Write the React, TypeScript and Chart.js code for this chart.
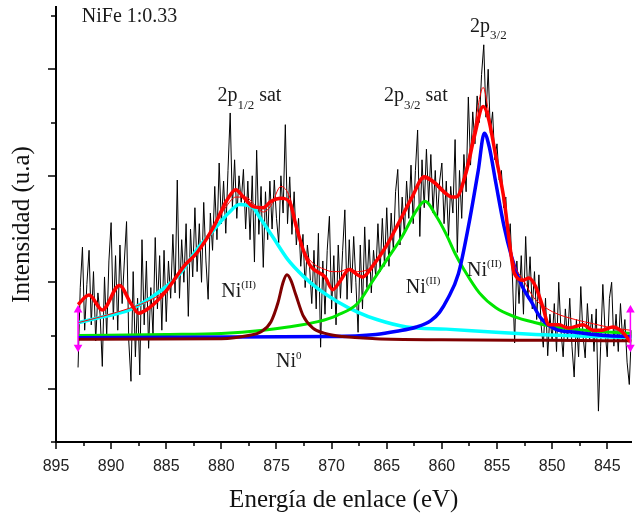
import React, { useEffect, useRef } from 'react';
import { Chart, registerables } from 'chart.js';

Chart.register(...registerables);

// ---------- axes ----------
const X_MAJOR = [895, 890, 885, 880, 875, 870, 865, 860, 855, 850, 845];
const X_MINOR = [892.5, 887.5, 882.5, 877.5, 872.5, 867.5, 862.5, 857.5, 852.5, 847.5];
const Y_MAJOR = [0, 1, 2, 3];
const Y_MINOR = [-0.5, 0.5, 1.5, 2.5, 3.5];

// ---------- raw spectrum (sampled every 0.2 eV from 893.0 eV downward) ----------
const RAW_START = 893.0;
const RAW_STEP = 0.2;
const rawCounts = [
  0.20, 0.95, 1.33, 0.55, 0.98,
  1.30, 0.60, 1.10, 0.45, 0.90,
  0.70, 0.21, 1.05, 0.50, 1.20,
  1.56, 0.65, 1.25, 0.55, 1.35,
  0.80, 1.20, 1.57, 0.45, 0.07,
  1.10, 0.30, 0.85, 0.13, 1.40,
  0.60, 1.20, 0.38, 0.95, 0.50,
  1.42, 0.75, 1.25, 0.55, 1.30,
  0.63, 1.20, 0.85, 1.45, 0.90,
  1.96, 0.85, 1.40, 1.00, 1.55,
  0.68, 1.50, 1.05, 1.70, 1.10,
  1.55, 1.00, 1.75, 1.20, 0.84,
  1.65, 1.30, 1.90, 1.40, 2.12,
  1.55, 1.95, 1.46, 2.05, 2.59,
  1.70, 2.15, 1.60, 2.00, 1.75,
  2.06, 1.50, 1.95, 1.40, 2.00,
  1.19, 2.24, 1.45, 1.90, 1.14,
  1.85, 1.40, 1.95, 1.50, 1.96,
  1.60, 1.37, 2.00, 1.65, 2.48,
  1.55, 1.99, 1.45, 1.85, 1.35,
  1.60, 1.15, 1.45, 0.95, 1.35,
  1.15, 0.80, 1.30, 0.75, 1.46,
  0.39, 1.20, 0.70, 1.30, 1.62,
  0.75, 1.25, 0.60, 1.35, 0.85,
  1.30, 1.68, 0.84, 1.40, 0.90,
  1.43, 1.00, 0.53, 1.35, 0.75,
  1.52, 0.95, 1.40, 0.90, 1.30,
  1.05, 1.55, 1.10, 1.60, 1.15,
  1.70, 1.15, 1.65, 1.30, 1.85,
  2.06, 1.35, 1.80, 1.45, 1.95,
  1.60, 2.10, 1.55, 2.05, 2.43,
  1.43, 2.15, 1.70, 2.25, 1.75,
  2.20, 1.65, 2.05, 1.60, 1.95,
  2.12, 1.55, 1.95, 1.43, 1.90,
  1.65, 2.34, 1.28, 2.05, 1.60,
  2.20, 1.85, 2.74, 2.10, 2.60,
  2.30, 2.75, 2.50, 2.95, 3.23,
  2.55, 3.00, 2.40, 2.60, 2.15,
  2.30, 1.96, 2.05, 1.70, 1.80,
  1.35, 1.55, 1.05, 0.43, 1.20,
  0.80, 1.25, 0.70, 1.43, 0.85,
  1.24, 0.75, 1.10, 0.65, 1.07,
  0.60, 0.39, 0.85, 0.31, 0.70,
  0.45, 0.80, 0.35, 1.00, 0.55,
  0.30, 0.75, 0.45, 0.85, 0.40,
  0.11, 0.65, 0.30, 0.96, 0.50,
  0.29, 0.80, 0.45, 0.70, 0.35,
  0.75, -0.21, 0.40, 0.98, 0.55,
  0.30, 0.85, 1.00, 0.40, 0.70,
  0.35, 0.80, 0.45, 0.65, 0.25,
  0.04, 0.55,
];
const rawEnergy = rawCounts.map((_, i) => +(RAW_START - i * RAW_STEP).toFixed(2));

// ---------- fitted components ----------
const cyanE = [893.0, 891.0, 888.35, 885.65, 883.85, 882.05, 880.7, 879.35, 878.36, 877.1, 876.65, 875.3, 873.95, 872.6, 871.25, 869.5, 867.65, 865.9, 863.2, 859.6, 855.1, 851.5, 846.1, 842.8];
const cyanY = [0.62, 0.67, 0.74, 0.91, 1.07, 1.33, 1.49, 1.65, 1.73, 1.70, 1.63, 1.42, 1.21, 1.06, 0.94, 0.82, 0.72, 0.65, 0.58, 0.56, 0.53, 0.51, 0.49, 0.48];

const greenE = [893.0, 885.0, 880.0, 876.2, 873.95, 871.25, 869.5, 867.65, 866.35, 865.0, 863.6, 862.27, 861.55, 860.5, 859.6, 858.8, 858.0, 856.6, 855.1, 853.5, 851.5, 849.7, 846.1, 842.8];
const greenY = [0.50, 0.51, 0.52, 0.55, 0.58, 0.63, 0.69, 0.80, 1.00, 1.21, 1.43, 1.68, 1.76, 1.62, 1.45, 1.27, 1.12, 0.90, 0.76, 0.68, 0.62, 0.58, 0.54, 0.52];

const blueE = [893.0, 870.0, 866.0, 864.1, 862.3, 861.0, 860.2, 859.5, 858.5, 857.6, 856.7, 856.15, 855.7, 855.1, 854.35, 853.7, 852.8, 851.9, 851.0, 849.7, 847.9, 845.2, 842.8];
const blueY = [0.48, 0.49, 0.51, 0.54, 0.58, 0.64, 0.72, 0.84, 1.08, 1.52, 2.05, 2.40, 2.27, 1.93, 1.52, 1.25, 0.98, 0.82, 0.66, 0.56, 0.53, 0.50, 0.49];

const brownE = [893.0, 880.0, 877.55, 876.4, 875.5, 874.86, 874.4, 874.05, 873.7, 873.24, 872.6, 871.7, 870.6, 869.0, 866.0, 860.0, 850.0, 842.8];
const brownY = [0.465, 0.47, 0.50, 0.535, 0.63, 0.81, 1.00, 1.07, 1.02, 0.88, 0.69, 0.57, 0.52, 0.49, 0.47, 0.46, 0.455, 0.45];

const envE = [893.0, 892.0, 890.8, 889.25, 888.2, 887.5, 886.55, 885.0, 883.4, 882.2, 880.7, 879.5, 878.7, 878.0, 877.1, 876.2, 875.5, 874.6, 873.8, 873.2, 872.6, 871.9, 870.6, 869.9, 869.3, 868.4, 867.65, 867.2, 866.3, 865.1, 863.9, 862.7, 861.6, 860.7, 859.8, 859.1, 858.7, 857.8, 857.05, 856.25, 855.8, 855.1, 854.35, 853.9, 853.45, 852.6, 852.1, 851.5, 850.85, 850.3, 849.4, 848.5, 847.2, 846.25, 845.45, 844.5, 843.65, 842.9];
const envY = [0.79, 0.88, 0.74, 0.97, 0.80, 0.71, 0.76, 0.92, 1.15, 1.28, 1.52, 1.77, 1.87, 1.80, 1.71, 1.70, 1.76, 1.79, 1.75, 1.52, 1.31, 1.15, 1.05, 0.93, 1.00, 1.12, 1.07, 1.05, 1.15, 1.33, 1.56, 1.80, 1.99, 1.94, 1.85, 1.80, 1.80, 2.03, 2.37, 2.65, 2.55, 2.18, 1.77, 1.40, 1.09, 1.02, 1.04, 0.96, 0.77, 0.60, 0.60, 0.57, 0.60, 0.55, 0.55, 0.58, 0.535, 0.44];

const smoothE = [893.0, 890.8, 888.2, 886.5, 885.0, 883.4, 882.2, 880.7, 879.5, 878.7, 877.8, 877.0, 876.2, 875.5, 874.6, 873.8, 873.2, 872.6, 871.9, 870.6, 869.9, 869.3, 868.4, 867.65, 866.3, 865.1, 863.9, 862.7, 861.6, 860.7, 859.8, 858.7, 857.8, 857.05, 856.25, 855.8, 855.1, 854.35, 853.9, 853.45, 852.6, 851.7, 850.85, 849.7, 847.9, 846.25, 844.5, 842.9];
const smoothY = [0.62, 0.68, 0.76, 0.83, 0.93, 1.15, 1.28, 1.52, 1.72, 1.80, 1.80, 1.73, 1.66, 1.72, 1.90, 1.80, 1.55, 1.33, 1.20, 1.12, 1.10, 1.10, 1.13, 1.10, 1.15, 1.33, 1.56, 1.80, 1.97, 1.92, 1.83, 1.80, 2.08, 2.45, 2.83, 2.62, 2.15, 1.75, 1.42, 1.18, 1.02, 0.86, 0.78, 0.71, 0.65, 0.61, 0.57, 0.55];

// baseline anchor markers (magenta)
const anchorLeftE = [893.0, 893.0];
const anchorRightE = [842.9, 842.9];
const anchorY = [0.74, 0.39];

// ---------- text labels ----------
type Part = { t: string; size: number; dy: number };
type Label = { e: number; v: number; parts: Part[] };
const LABELS: Label[] = [
  { e: 892.66, v: 3.44, parts: [{ t: 'NiFe 1:0.33', size: 20, dy: 0 }] },
  { e: 880.35, v: 2.70, parts: [{ t: '2p', size: 20, dy: 0 }, { t: '1/2', size: 13, dy: 8 }, { t: ' sat', size: 20, dy: 0 }] },
  { e: 865.26, v: 2.70, parts: [{ t: '2p', size: 20, dy: 0 }, { t: '3/2', size: 13, dy: 8 }, { t: ' sat', size: 20, dy: 0 }] },
  { e: 857.44, v: 3.35, parts: [{ t: '2p', size: 20, dy: 0 }, { t: '3/2', size: 13, dy: 7 }] },
  { e: 880.0, v: 0.862, parts: [{ t: 'Ni', size: 20, dy: 0 }, { t: '(II)', size: 11, dy: -9 }] },
  { e: 875.05, v: 0.204, parts: [{ t: 'Ni', size: 20, dy: 0 }, { t: '0', size: 11, dy: -8 }] },
  { e: 863.28, v: 0.90, parts: [{ t: 'Ni', size: 20, dy: 0 }, { t: '(II)', size: 11, dy: -9 }] },
  { e: 857.71, v: 1.06, parts: [{ t: 'Ni', size: 20, dy: 0 }, { t: '(II)', size: 11, dy: -9 }] },
];

const SERIF = '"Liberation Serif", "Times New Roman", serif';
const SANS = '"Liberation Sans", Arial, sans-serif';

const pts = (xs: number[], ys: number[]) => xs.map((x, i) => ({ x, y: ys[i] }));

const decorPlugin = {
  id: 'decor',
  afterDraw(chart: any) {
    const { ctx, chartArea } = chart;
    const xs = chart.scales.x;
    const ys = chart.scales.y;
    ctx.save();
    ctx.strokeStyle = '#000';
    ctx.lineWidth = 1.5;
    const line = (x1: number, y1: number, x2: number, y2: number) => {
      ctx.beginPath();
      ctx.moveTo(x1, y1);
      ctx.lineTo(x2, y2);
      ctx.stroke();
    };
    const yb = chartArea.bottom;
    X_MAJOR.forEach((v) => { const p = Math.round(xs.getPixelForValue(v)); line(p, yb, p, yb + 7); });
    X_MINOR.forEach((v) => { const p = Math.round(xs.getPixelForValue(v)); line(p, yb, p, yb + 4); });
    const xl = chartArea.left;
    Y_MAJOR.forEach((v) => { const p = Math.round(ys.getPixelForValue(v)); line(xl - 8, p, xl, p); });
    Y_MINOR.forEach((v) => { const p = Math.round(ys.getPixelForValue(v)); line(xl - 5, p, xl, p); });

    ctx.fillStyle = '#1a1a1a';
    ctx.textBaseline = 'alphabetic';
    ctx.textAlign = 'left';
    LABELS.forEach((lab) => {
      let x = xs.getPixelForValue(lab.e);
      const y = ys.getPixelForValue(lab.v);
      lab.parts.forEach((p) => {
        ctx.font = `${p.size}px ${SERIF}`;
        ctx.fillText(p.t, x, y + p.dy);
        x += ctx.measureText(p.t).width;
      });
    });
    ctx.restore();
  },
};

export default function App() {
  const ref = useRef<HTMLCanvasElement | null>(null);

  useEffect(() => {
    document.body.style.margin = '0';
    const canvas = ref.current;
    if (!canvas) return;
    const base = { pointRadius: 0, fill: false };
    const chart = new Chart(canvas, {
      type: 'line',
      data: {
        datasets: [
          { ...base, label: 'data', data: pts(rawEnergy, rawCounts), borderColor: '#000000', borderWidth: 1, tension: 0, order: 10 },
          { ...base, label: 'Ni(II) sat 2p1/2', data: pts(cyanE, cyanY), borderColor: '#00FFFF', borderWidth: 3.5, cubicInterpolationMode: 'monotone', order: 9 },
          { ...base, label: 'Ni(II) sat 2p3/2', data: pts(greenE, greenY), borderColor: '#00E600', borderWidth: 3, cubicInterpolationMode: 'monotone', order: 8 },
          { ...base, label: 'Ni(II) 2p3/2', data: pts(blueE, blueY), borderColor: '#0000FF', borderWidth: 3.5, cubicInterpolationMode: 'monotone', order: 7 },
          { ...base, label: 'Ni0', data: pts(brownE, brownY), borderColor: '#800000', borderWidth: 3, cubicInterpolationMode: 'monotone', order: 6 },
          { ...base, label: 'envelope', data: pts(envE, envY), borderColor: '#FF0000', borderWidth: 3.5, cubicInterpolationMode: 'monotone', order: 5 },
          { ...base, label: 'smooth', data: pts(smoothE, smoothY), borderColor: '#FF0000', borderWidth: 1, cubicInterpolationMode: 'monotone', order: 4 },
          { label: 'anchorL', data: pts(anchorLeftE, anchorY), borderColor: '#FF00FF', backgroundColor: '#FF00FF', borderWidth: 1.5, pointStyle: 'triangle', pointRadius: 3.5, pointRotation: [0, 180], clip: false, order: 1 },
          { label: 'anchorR', data: pts(anchorRightE, anchorY), borderColor: '#FF00FF', backgroundColor: '#FF00FF', borderWidth: 1.5, pointStyle: 'triangle', pointRadius: 3.5, pointRotation: [0, 180], clip: false, order: 1 },
        ] as any,
      },
      options: {
        animation: false,
        responsive: false,
        devicePixelRatio: 1,
        layout: { padding: { top: 7, left: 0, right: 0, bottom: 0 } },
        plugins: { legend: { display: false }, tooltip: { enabled: false } },
        events: [],
        scales: {
          x: {
            type: 'linear',
            reverse: true,
            min: 842.8,
            max: 895,
            afterBuildTicks: (scale: any) => { scale.ticks = X_MAJOR.map((v) => ({ value: v })); },
            afterFit: (scale: any) => { scale.height = 76; },
            grid: { display: false, drawTicks: false },
            border: { display: true, color: '#000', width: 2 },
            ticks: {
              padding: 15,
              autoSkip: false,
              maxRotation: 0,
              color: '#222',
              font: { family: SANS, size: 16 },
              callback: (v: any) => String(v),
            },
            title: { display: true, text: 'Energía de enlace (eV)', color: '#111', font: { family: SERIF, size: 25 }, padding: { top: 0, bottom: 3 } },
          },
          y: {
            type: 'linear',
            min: -0.5,
            max: 3.585,
            afterFit: (scale: any) => { scale.width = 56; },
            grid: { display: false, drawTicks: false },
            border: { display: true, color: '#000', width: 2 },
            ticks: { display: false },
            title: { display: true, text: 'Intensidad (u.a)', color: '#111', font: { family: SERIF, size: 25 }, padding: { top: 7, bottom: 0 } },
          },
        },
      } as any,
      plugins: [decorPlugin],
    });
    return () => chart.destroy();
  }, []);

  return (
    <div style={{ position: 'absolute', left: 0, top: 0, width: 637, height: 518 }}>
      <canvas ref={ref} width={637} height={518} style={{ display: 'block' }} />
    </div>
  );
}
